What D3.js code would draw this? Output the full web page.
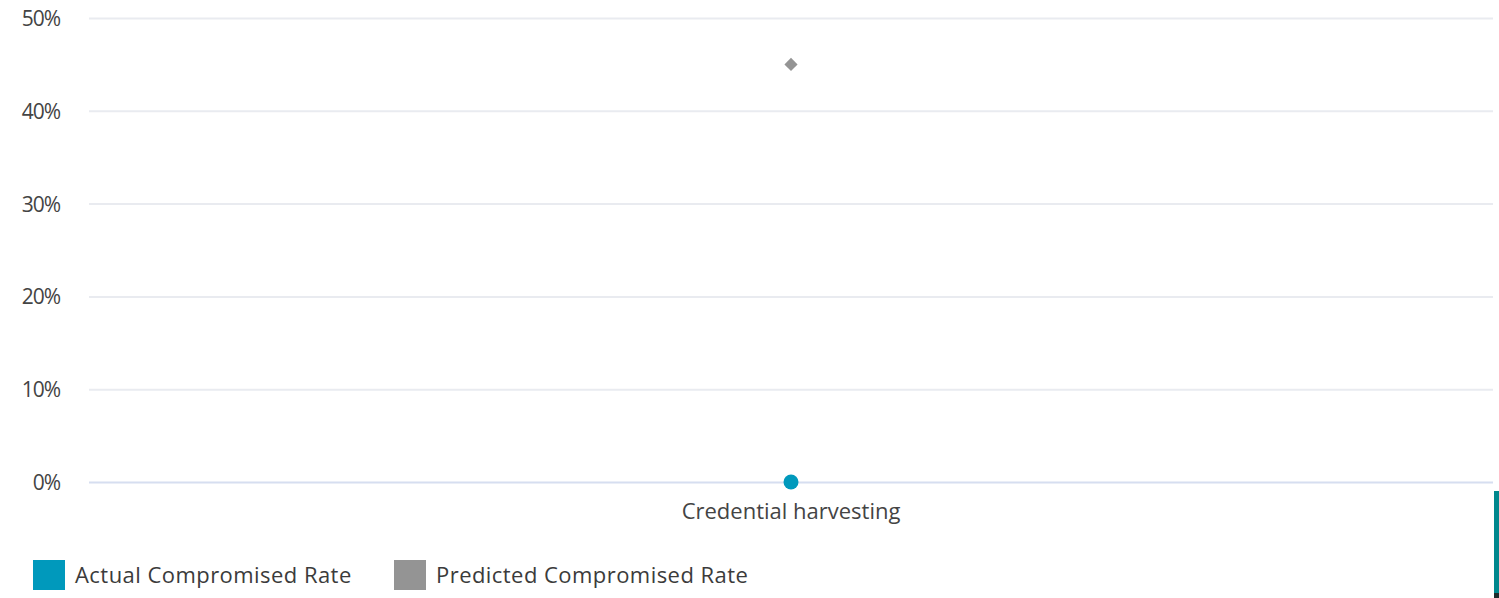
<!DOCTYPE html>
<html>
<head>
<meta charset="utf-8">
<script src="https://cdn.jsdelivr.net/npm/d3@7"></script>
<style>
  html, body { margin: 0; padding: 0; background: #fff; }
  svg { display: block; }
  svg text { font-family: "Open Sans", "Noto Sans", sans-serif; }
</style>
</head>
<body>
<svg id="chart" width="1499" height="598"></svg>
<script>
// Phishing simulation: actual vs predicted compromise rate per technique
const categories = ["Credential harvesting"];
const actualRate = [0.0];
const predictedRate = [0.45];
const yTicks = [0, 0.1, 0.2, 0.3, 0.4, 0.5];
const seriesNames = ["Actual Compromised Rate", "Predicted Compromised Rate"];
const seriesColors = ["#0099bc", "#949494"];

const svg = d3.select("#chart");
const W = 1499, H = 598;
const margin = { left: 89, right: 6, top: 18, bottom: 116 };

const x = d3.scaleBand()
  .domain(categories)
  .range([margin.left, W - margin.right]);

const y = d3.scaleLinear()
  .domain([0, 0.5])
  .range([H - margin.bottom, margin.top]);

// horizontal gridlines with percentage labels
const yAxis = d3.axisLeft(y)
  .tickValues(yTicks)
  .tickFormat(d3.format(".0%"))
  .tickSize(-(W - margin.right - margin.left))
  .tickPadding(29);

const gy = svg.append("g")
  .attr("transform", `translate(${margin.left},0)`)
  .call(yAxis)
  .attr("font-family", null);
gy.select(".domain").remove();
gy.selectAll(".tick line")
  .attr("stroke", d => d === 0 ? "#d6def0" : "#e9ebf0")
  .attr("stroke-width", 2);
gy.selectAll(".tick text")
  .attr("fill", "#444")
  .attr("font-size", 21)
  .attr("dy", "0.36em")
  .style("letter-spacing", "-1px");

// category axis labels
const gx = svg.append("g")
  .attr("transform", `translate(0,${y(0)})`)
  .call(d3.axisBottom(x).tickSize(0).tickPadding(21))
  .attr("font-family", null);
gx.select(".domain").remove();
gx.selectAll(".tick text")
  .attr("fill", "#444")
  .attr("font-size", 22)
  .attr("dy", "0.71em");

const cx = d => x(d) + x.bandwidth() / 2;

// predicted rate: diamond markers
svg.append("g").selectAll("path")
  .data(categories)
  .join("path")
  .attr("d", d3.symbol().type(d3.symbolDiamond2).size(110))
  .attr("transform", (d, i) => `translate(${cx(d)},${y(predictedRate[i])})`)
  .attr("fill", seriesColors[1]);

// actual rate: circle markers
svg.append("g").selectAll("circle")
  .data(categories)
  .join("circle")
  .attr("cx", d => cx(d))
  .attr("cy", (d, i) => y(actualRate[i]))
  .attr("r", 7.5)
  .attr("fill", seriesColors[0]);

// scroll edge at right
svg.append("rect")
  .attr("x", 1494).attr("y", 491)
  .attr("width", 5).attr("height", 102)
  .attr("fill", "#00878d");
svg.append("rect")
  .attr("x", 1494).attr("y", 593)
  .attr("width", 5).attr("height", 5)
  .attr("fill", "#1d2b2c");

// legend
const legendX = [33, 394];
const lg = svg.append("g").selectAll("g")
  .data(seriesNames)
  .join("g")
  .attr("transform", (d, i) => `translate(${legendX[i]},560)`);
lg.append("rect")
  .attr("width", 32).attr("height", 30)
  .attr("fill", (d, i) => seriesColors[i]);
lg.append("text")
  .attr("x", 42).attr("y", 15)
  .attr("dy", "0.36em")
  .attr("font-size", 22)
  .attr("fill", "#3b3b3b")
  .style("letter-spacing", "0.45px")
  .text(d => d);
</script>
</body>
</html>
